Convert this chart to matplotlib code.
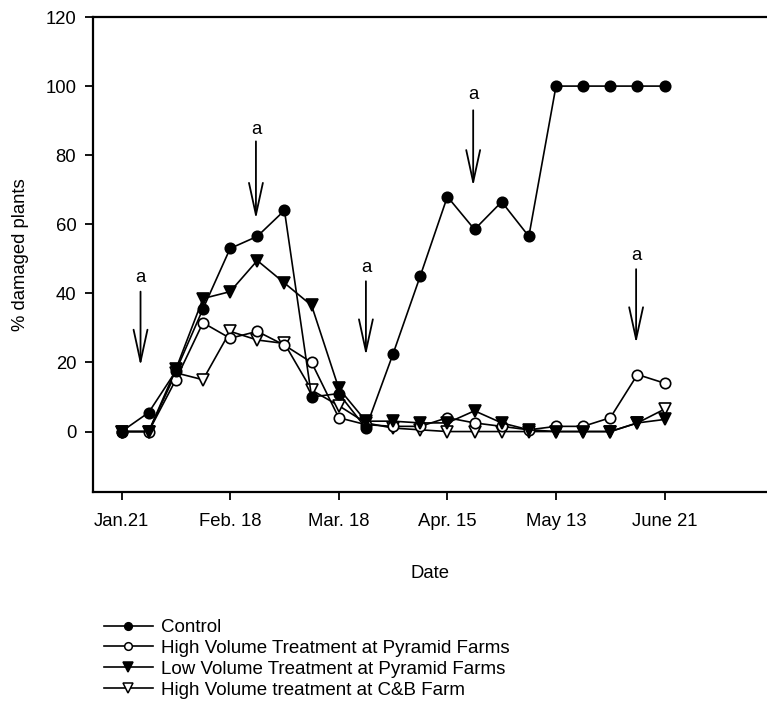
import matplotlib
matplotlib.use("Agg")
import matplotlib.pyplot as plt
from matplotlib.lines import Line2D

plt.rcParams['font.family'] = ['Liberation Sans', 'DejaVu Sans']

weeks = list(range(21))
control = [0, 5.5, 17.5, 35.5, 53, 56.5, 64, 10, 11, 1, 22.5, 45, 68, 58.5, 66.5, 56.5,
           100, 100, 100, 100, 100]
high_pyramid = [0, 0, 15, 31.5, 27, 29, 25, 20, 4, 2, 1.5, 1.5, 4, 2.5, 1.5, 0.5,
                1.5, 1.5, 4, 16.5, 14]
low_pyramid = [0, 0, 18, 38.5, 40.5, 49.5, 43, 36.5, 12.5, 3, 3, 2.5, 2.5, 6, 2.5, 0.5,
               0, 0, 0, 2.5, 3.5]
high_cb = [0, 0, 17, 15, 29, 26.5, 25.5, 12, 7.5, 2.5, 1, 0.5, 0, 0, 0, 0,
           0, 0, 0, 2.5, 6.5]

series_labels = ["Control",
                 "High Volume Treatment at Pyramid Farms",
                 "Low Volume Treatment at Pyramid Farms",
                 "High Volume treatment at C&B Farm"]

tick_weeks = [0, 4, 8, 12, 16, 20]
tick_labels = ["Jan.21", "Feb. 18", "Mar. 18", "Apr. 15", "May 13", "June 21"]
y_ticks = [0, 20, 40, 60, 80, 100, 120]

arrow_weeks = [0.7, 4.95, 9.0, 12.95, 18.95]
arrow_tips = [19, 61.5, 22, 71, 25.5]
arrow_tops = [40.5, 84, 43.5, 93, 47]
arrow_label_y = [44.5, 87.5, 47.5, 97.5, 51]
arrow_text = "a"

FS = 13.3
W, H = 767, 713
fig = plt.figure(figsize=(W / 100, H / 100), dpi=100)
ax = fig.add_axes([93 / W, (H - 492) / H, (W - 93) / W, (492 - 17) / H])

lw = 1.2
styles = [
    dict(marker='o', markerfacecolor='black', markersize=7.5),
    dict(marker='o', markerfacecolor='white', markersize=7.5),
    dict(marker='v', markerfacecolor='black', markersize=9),
    dict(marker='v', markerfacecolor='white', markersize=9),
]
data = [control, high_pyramid, low_pyramid, high_cb]
order = [3, 1, 2, 0]
for k, i in enumerate(order):
    ax.plot(weeks, data[i], color='black', lw=lw, markeredgecolor='black',
            markeredgewidth=1.2, zorder=3 + k, **styles[i])

for xw, tip, top, ly in zip(arrow_weeks, arrow_tips, arrow_tops, arrow_label_y):
    ax.annotate("", xy=(xw, tip), xytext=(xw, top),
                arrowprops=dict(arrowstyle='->,head_length=2.3,head_width=0.5',
                                lw=1.3, color='black', shrinkA=0, shrinkB=0,
                                mutation_scale=10))
    ax.text(xw, ly, arrow_text, ha='center', va='center', fontsize=FS)

ax.set_xlim(-1.05, 23.77)
ax.set_ylim(-17.5, 120)
ax.set_xticks(tick_weeks)
ax.set_xticklabels(tick_labels)
ax.set_yticks(y_ticks)
ax.tick_params(axis='x', direction='out', length=6, width=1.3, labelsize=FS, pad=9)
ax.tick_params(axis='y', direction='out', length=6, width=1.3, labelsize=FS, pad=6)
ax.spines['right'].set_visible(False)
for s in ['left', 'top', 'bottom']:
    ax.spines[s].set_linewidth(1.6)

ax.set_xlabel("Date", fontsize=FS, labelpad=25)
ax.set_ylabel("% damaged plants", fontsize=FS, labelpad=12)

handles = []
leg_sizes = [5.5, 5.5, 6.5, 6.5]
for i in range(4):
    st = dict(styles[i])
    st['markersize'] = leg_sizes[i]
    handles.append(Line2D([], [], color='black', lw=lw, markeredgecolor='black',
                          markeredgewidth=1.1, **st))
fig.legend(handles, series_labels, loc='upper left',
           bbox_to_anchor=(104 / W, (H - 619) / H), frameon=False,
           fontsize=13.5, handlelength=2.6, handletextpad=0.42,
           labelspacing=0.2, borderpad=0, borderaxespad=0)

fig.savefig("out.png", dpi=100)
